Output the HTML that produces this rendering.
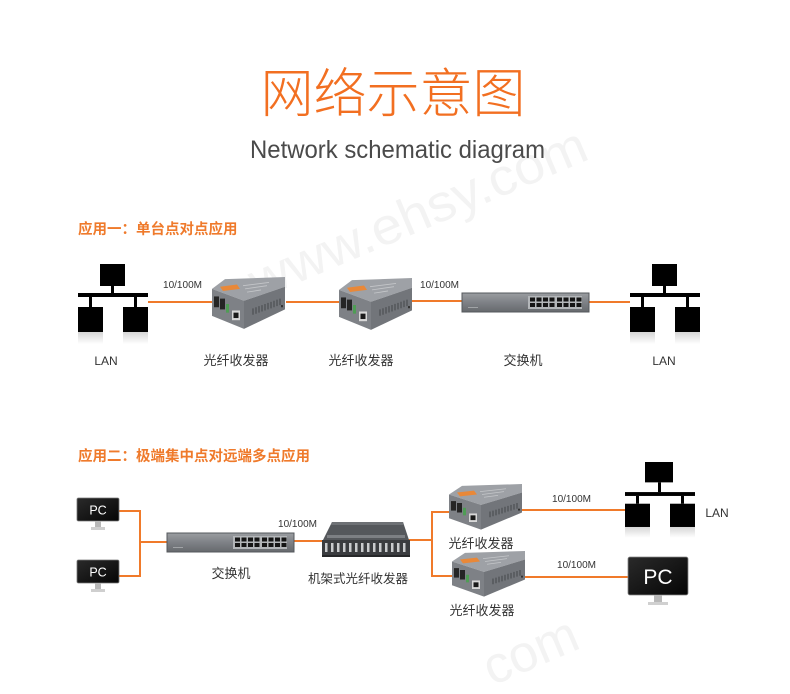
<!DOCTYPE html>
<html><head><meta charset="utf-8"><style>
html,body{margin:0;padding:0;background:#fff;width:790px;height:694px;overflow:hidden;}
svg{display:block;}
.cn{font-family:"Liberation Sans","Noto Sans CJK SC",sans-serif;}
</style></head><body>
<svg width="790" height="694" viewBox="0 0 790 694" xmlns="http://www.w3.org/2000/svg">
<defs>
  <linearGradient id="refl" x1="0" y1="0" x2="0" y2="1">
    <stop offset="0" stop-color="#d6d6d6"/><stop offset="1" stop-color="#ffffff"/>
  </linearGradient>
  <linearGradient id="swg" x1="0" y1="0" x2="0" y2="1">
    <stop offset="0" stop-color="#9a9da1"/><stop offset="0.5" stop-color="#7e8186"/><stop offset="1" stop-color="#66696d"/>
  </linearGradient>
  <linearGradient id="scr" x1="0" y1="0" x2="1" y2="1">
    <stop offset="0" stop-color="#2a2a2a"/><stop offset="1" stop-color="#050505"/>
  </linearGradient>
  <g id="conv">
    <polygon points="1,11 14,2 74,0 74,9 33,22" fill="#9ea1a6"/>
    <polygon points="1,11 33,22 33,48 1,36" fill="#7e8186"/>
    <polygon points="33,22 74,9 74,30 33,48" fill="#72757a"/>
    <polygon points="9,9 26,7 29,11 12,13" fill="#e98838"/>
    <line x1="32" y1="8" x2="58" y2="5" stroke="#c4c6c9" stroke-width="0.8"/>
    <line x1="34" y1="11" x2="56" y2="8" stroke="#c4c6c9" stroke-width="0.8"/>
    <line x1="36" y1="14" x2="50" y2="12" stroke="#c4c6c9" stroke-width="0.8"/>
    <rect x="3" y="18" width="5" height="10" fill="#252525"/>
    <rect x="9" y="20" width="5" height="10" fill="#252525"/>
    <rect x="15" y="25" width="3" height="8" fill="#4f9d55"/>
    <rect x="21" y="31" width="8" height="9" fill="#d8d8d8"/>
    <rect x="22.5" y="33" width="5" height="5" fill="#1a1a1a"/>
    <g stroke="#44474b" stroke-width="1">
      <line x1="42" y1="29" x2="42" y2="35"/><line x1="45" y1="28" x2="45" y2="34"/>
      <line x1="48" y1="27" x2="48" y2="33"/><line x1="51" y1="26" x2="51" y2="32"/>
      <line x1="54" y1="25" x2="54" y2="31"/><line x1="57" y1="24" x2="57" y2="30"/>
      <line x1="60" y1="23" x2="60" y2="29"/><line x1="63" y1="22" x2="63" y2="28"/>
      <line x1="66" y1="21" x2="66" y2="27"/><line x1="69" y1="20" x2="69" y2="26"/>
    </g>
    <rect x="70" y="26" width="2" height="2" fill="#333"/>
  </g>
  <g id="sw">
    <rect x="0" y="0" width="127" height="19" fill="url(#swg)" stroke="#55585c" stroke-width="1"/>
    <rect x="66" y="3" width="54" height="13" fill="#b3b6b9"/>
    <g fill="#151515">
      <rect x="68" y="4.5" width="5" height="4"/><rect x="74.5" y="4.5" width="5" height="4"/><rect x="81" y="4.5" width="5" height="4"/><rect x="87.5" y="4.5" width="5" height="4"/>
      <rect x="68" y="10" width="5" height="4"/><rect x="74.5" y="10" width="5" height="4"/><rect x="81" y="10" width="5" height="4"/><rect x="87.5" y="10" width="5" height="4"/>
      <rect x="95" y="4.5" width="5" height="4"/><rect x="101.5" y="4.5" width="5" height="4"/><rect x="108" y="4.5" width="5" height="4"/><rect x="114.5" y="4.5" width="5" height="4"/>
      <rect x="95" y="10" width="5" height="4"/><rect x="101.5" y="10" width="5" height="4"/><rect x="108" y="10" width="5" height="4"/><rect x="114.5" y="10" width="5" height="4"/>
    </g>
    <rect x="6" y="14" width="10" height="1" fill="#a0a3a6"/>
  </g>
  <g id="lan">
    <rect x="22" y="0" width="25" height="22" fill="#000"/>
    <rect x="33" y="22" width="3" height="8" fill="#000"/>
    <rect x="0" y="29" width="70" height="4" fill="#000"/>
    <rect x="11" y="33" width="3" height="10" fill="#000"/>
    <rect x="56" y="33" width="3" height="10" fill="#000"/>
    <rect x="0" y="43" width="25" height="25" fill="#000"/>
    <rect x="45" y="43" width="25" height="25" fill="#000"/>
    <rect x="0" y="68" width="25" height="12" fill="url(#refl)"/>
    <rect x="45" y="68" width="25" height="12" fill="url(#refl)"/>
  </g>
  <g id="pcs">
    <rect x="0" y="0" width="42" height="23" rx="1.5" fill="url(#scr)" stroke="#777" stroke-width="0.8"/>
    <text x="21" y="16.5" text-anchor="middle" font-family="Liberation Sans, sans-serif" font-size="12.5" fill="#fff">PC</text>
    <rect x="18" y="23" width="6" height="6" fill="#b8b8b8"/>
    <rect x="14" y="29" width="14" height="3" fill="#cfcfcf"/>
  </g>
</defs>

<!-- watermarks -->
<g transform="translate(258,300) rotate(-23)">
  <text x="0" y="0" font-family="Liberation Sans, sans-serif" font-size="52" fill="#f3f3f3" textLength="362" lengthAdjust="spacingAndGlyphs">www.ehsy.com</text>
</g>
<g transform="translate(492,686) rotate(-23)">
  <text x="0" y="0" font-family="Liberation Sans, sans-serif" font-size="52" fill="#f3f3f3">com</text>
</g>

<!-- Title -->
<text x="393" y="112" text-anchor="middle" class="cn" font-size="53" fill="#f26f21" font-weight="300">网络示意图</text>
<text x="250" y="158" font-family="Liberation Sans, sans-serif" font-size="25" fill="#4a4a4a" textLength="295" lengthAdjust="spacingAndGlyphs">Network schematic diagram</text>

<!-- Section 1 -->
<text x="78" y="234" class="cn" font-size="14.5" font-weight="bold" fill="#ef7a2b">应用一：单台点对点应用</text>

<g stroke="#f07a2a" stroke-width="2" fill="none">
  <line x1="148" y1="302" x2="213" y2="302"/>
  <line x1="286" y1="302" x2="340" y2="302"/>
  <line x1="412" y1="301" x2="463" y2="301"/>
  <line x1="588" y1="302" x2="630" y2="302"/>
</g>

<use href="#lan" x="78" y="264"/>
<use href="#lan" x="630" y="264"/>
<g transform="translate(211,277) scale(1,1.08)"><use href="#conv"/></g>
<g transform="translate(338,278) scale(1,1.08)"><use href="#conv"/></g>
<use href="#sw" x="462" y="293"/>

<g font-family="Liberation Sans, sans-serif" font-size="10.5" fill="#333">
  <text x="163" y="288" textLength="39" lengthAdjust="spacingAndGlyphs">10/100M</text>
  <text x="420" y="288" textLength="39" lengthAdjust="spacingAndGlyphs">10/100M</text>
</g>
<g class="cn" font-size="13" fill="#333" text-anchor="middle">
  <text x="106" y="365" font-family="Liberation Sans, sans-serif" font-size="12">LAN</text>
  <text x="236" y="365">光纤收发器</text>
  <text x="361" y="365">光纤收发器</text>
  <text x="523" y="365">交换机</text>
  <text x="664" y="365" font-family="Liberation Sans, sans-serif" font-size="12">LAN</text>
</g>

<!-- Section 2 -->
<text x="78" y="461" class="cn" font-size="14.5" font-weight="bold" fill="#ef7a2b">应用二：极端集中点对远端多点应用</text>

<g stroke="#f07a2a" stroke-width="2" fill="none">
  <polyline points="119,511 140,511 140,576 119,576"/>
  <line x1="140" y1="542" x2="168" y2="542"/>
  <line x1="294" y1="541" x2="324" y2="541"/>
  <line x1="407" y1="540" x2="432" y2="540"/>
  <polyline points="449,512 432,512 432,576 453,576"/>
  <line x1="521" y1="510" x2="626" y2="510"/>
  <line x1="522" y1="577" x2="629" y2="577"/>
</g>

<use href="#pcs" x="77" y="498"/>
<use href="#pcs" x="77" y="560"/>
<use href="#sw" x="167" y="533"/>

<!-- rack -->
<g>
  <polygon points="332,522 403,522 409,540 323,540" fill="#55585c"/>
  <polygon points="332,522 403,522 404,525 331,525" fill="#6e7175"/>
  <rect x="327" y="535" width="78" height="3" fill="#7d8084"/>
  <rect x="322" y="540" width="88" height="16" fill="#3a3c3f"/>
  <g fill="#c9cbcd">
    <rect x="325" y="543" width="2.5" height="9"/><rect x="331" y="543" width="2.5" height="9"/><rect x="337" y="543" width="2.5" height="9"/>
    <rect x="343" y="543" width="2.5" height="9"/><rect x="349" y="543" width="2.5" height="9"/><rect x="355" y="543" width="2.5" height="9"/>
    <rect x="361" y="543" width="2.5" height="9"/><rect x="367" y="543" width="2.5" height="9"/><rect x="373" y="543" width="2.5" height="9"/>
    <rect x="379" y="543" width="2.5" height="9"/><rect x="385" y="543" width="2.5" height="9"/><rect x="391" y="543" width="2.5" height="9"/>
    <rect x="397" y="543" width="2.5" height="9"/><rect x="403" y="543" width="2.5" height="9"/>
  </g>
  <rect x="322" y="555" width="88" height="2" fill="#262729"/>
</g>

<g transform="translate(448,484) scale(1,0.95)"><use href="#conv"/></g>
<g transform="translate(451,551) scale(1,0.95)"><use href="#conv"/></g>

<!-- LAN right row 2 -->
<g transform="translate(625,462) scale(1,0.97)">
  <rect x="20" y="0" width="28" height="21" fill="#000"/>
  <rect x="33" y="21" width="3" height="10" fill="#000"/>
  <rect x="0" y="31" width="70" height="4" fill="#000"/>
  <rect x="11" y="35" width="3" height="8" fill="#000"/>
  <rect x="56" y="35" width="3" height="8" fill="#000"/>
  <rect x="0" y="43" width="25" height="24" fill="#000"/>
  <rect x="45" y="43" width="25" height="24" fill="#000"/>
  <rect x="0" y="67" width="25" height="11" fill="url(#refl)"/>
  <rect x="45" y="67" width="25" height="11" fill="url(#refl)"/>
</g>

<!-- big PC -->
<g>
  <rect x="628" y="557" width="60" height="38" rx="2" fill="url(#scr)" stroke="#888" stroke-width="0.8"/>
  <text x="658" y="584" text-anchor="middle" font-family="Liberation Sans, sans-serif" font-size="21" fill="#fff">PC</text>
  <rect x="654" y="595" width="8" height="7" fill="#b8b8b8"/>
  <rect x="648" y="602" width="20" height="3" fill="#d0d0d0"/>
</g>

<g font-family="Liberation Sans, sans-serif" font-size="10.5" fill="#333">
  <text x="278" y="527" textLength="39" lengthAdjust="spacingAndGlyphs">10/100M</text>
  <text x="552" y="502" textLength="39" lengthAdjust="spacingAndGlyphs">10/100M</text>
  <text x="557" y="568" textLength="39" lengthAdjust="spacingAndGlyphs">10/100M</text>
</g>
<g class="cn" font-size="13" fill="#333" text-anchor="middle">
  <text x="231" y="578">交换机</text>
  <text x="358" y="583" font-size="12.5">机架式光纤收发器</text>
  <text x="481" y="548">光纤收发器</text>
  <text x="482" y="615">光纤收发器</text>
  <text x="717" y="517" font-family="Liberation Sans, sans-serif" font-size="12">LAN</text>
</g>
</svg>
</body></html>
